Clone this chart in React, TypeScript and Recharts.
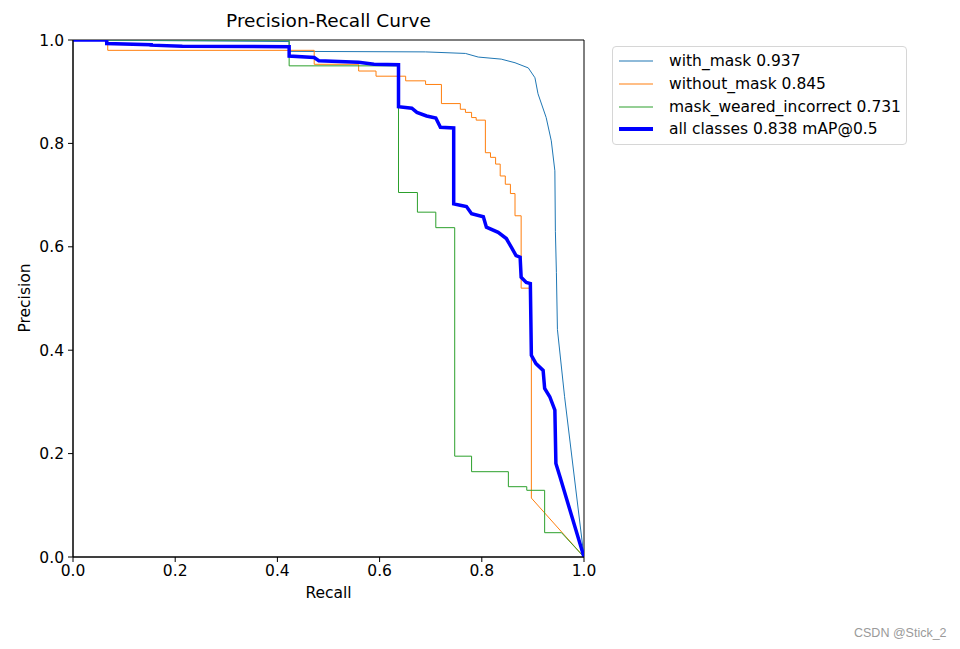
import React from 'react';
import { LineChart, Line, XAxis, YAxis, ReferenceArea } from 'recharts';

// with_mask: traced vertices (recall, precision)
const withMaskRecall = [0, 0.423, 0.423, 0.69, 0.768, 0.793, 0.838, 0.865, 0.891, 0.904, 0.91, 0.926, 0.936, 0.943, 0.944, 0.946, 0.948, 0.962, 1.0];
const withMaskPrecision = [1, 0.997, 0.978, 0.977, 0.974, 0.967, 0.963, 0.956, 0.946, 0.927, 0.896, 0.85, 0.805, 0.747, 0.63, 0.55, 0.44, 0.31, 0];

// without_mask: step breakpoints and the precision level after each one
const withoutMaskRecall = [0, 0.068, 0.472, 0.559, 0.593, 0.651, 0.69, 0.721, 0.758, 0.768, 0.78, 0.789, 0.807, 0.817, 0.827, 0.836, 0.846, 0.856, 0.865, 0.877, 0.897];
const withoutMaskPrecision = [1, 0.98, 0.953, 0.94, 0.93, 0.921, 0.914, 0.877, 0.866, 0.86, 0.85, 0.845, 0.782, 0.773, 0.76, 0.737, 0.721, 0.703, 0.66, 0.52, 0.114];
const withoutMaskEnd = 0.897;

// mask_weared_incorrect: step breakpoints
const incorrectRecall = [0, 0.423, 0.637, 0.674, 0.71, 0.747, 0.78, 0.852, 0.888, 0.923];
const incorrectPrecision = [1, 0.95, 0.705, 0.667, 0.637, 0.195, 0.165, 0.136, 0.129, 0.047];
const incorrectEnd = 0.956;

// all classes: traced vertices
const allRecall = [0, 0.066, 0.066, 0.153, 0.153, 0.214, 0.423, 0.423, 0.472, 0.481, 0.559, 0.589, 0.637, 0.637, 0.663, 0.673, 0.692, 0.71, 0.719, 0.745, 0.745, 0.76, 0.77, 0.78, 0.803, 0.809, 0.832, 0.848, 0.858, 0.867, 0.875, 0.877, 0.887, 0.895, 0.897, 0.906, 0.92, 0.923, 0.933, 0.943, 0.945, 0.953, 1];
const allPrecision = [1, 1, 0.993, 0.991, 0.99, 0.988, 0.987, 0.969, 0.966, 0.96, 0.957, 0.953, 0.952, 0.871, 0.868, 0.86, 0.853, 0.849, 0.831, 0.83, 0.683, 0.68, 0.678, 0.664, 0.658, 0.638, 0.628, 0.616, 0.599, 0.583, 0.58, 0.541, 0.531, 0.529, 0.39, 0.374, 0.361, 0.326, 0.31, 0.284, 0.181, 0.155, 0];

const axisTicks = [0, 0.2, 0.4, 0.6, 0.8, 1.0];

const legendItems = [
  { label: 'with_mask 0.937', color: '#1f77b4', width: 1.2 },
  { label: 'without_mask 0.845', color: '#ff7f0e', width: 1.2 },
  { label: 'mask_weared_incorrect 0.731', color: '#2ca02c', width: 1.2 },
  { label: 'all classes 0.838 mAP@0.5', color: '#0000ff', width: 4 },
];

type Pt = { recall: number; precision: number };

const zipPoints = (r: number[], p: number[]): Pt[] =>
  r.map((x, i) => ({ recall: x, precision: p[i] }));

// turn step breakpoints into line vertices, ending with a straight run to (1, 0)
const stairs = (r: number[], p: number[], end: number): Pt[] => {
  const pts: Pt[] = [];
  r.forEach((x, i) => {
    if (i > 0) pts.push({ recall: x, precision: p[i - 1] });
    pts.push({ recall: x, precision: p[i] });
  });
  pts.push({ recall: end, precision: p[p.length - 1] });
  pts.push({ recall: 1, precision: 0 });
  return pts;
};

const withMaskData = zipPoints(withMaskRecall, withMaskPrecision);
const withoutMaskData = stairs(withoutMaskRecall, withoutMaskPrecision, withoutMaskEnd);
const incorrectData = stairs(incorrectRecall, incorrectPrecision, incorrectEnd);
const allData = zipPoints(allRecall, allPrecision);

const FONT = '"DejaVu Sans", sans-serif';

const LegendBox = () => (
  <div
    style={{
      position: 'absolute',
      left: 612,
      top: 46,
      width: 293,
      height: 97,
      border: '1px solid #d6d6d6',
      borderRadius: 4,
      background: '#fff',
      fontFamily: FONT,
      fontSize: 15.5,
      color: '#000',
    }}
  >
    {legendItems.map((item, i) => (
      <div key={item.label} style={{ position: 'absolute', left: 5, top: 3 + i * 22.8, height: 22, display: 'flex', alignItems: 'center' }}>
        <svg width={36} height={10} style={{ marginRight: 15 }}>
          <line x1={1} y1={5} x2={35} y2={5} stroke={item.color} strokeWidth={item.width} />
        </svg>
        <span style={{ whiteSpace: 'nowrap' }}>{item.label}</span>
      </div>
    ))}
  </div>
);

const App: React.FC = () => {
  const tickStyle = { fontFamily: FONT, fontSize: 15.5, fill: '#000' };
  return (
    <div style={{ position: 'absolute', left: 0, top: 0, width: 960, height: 649, background: '#fff' }}>
      <LineChart width={960} height={649} margin={{ top: 40, right: 376, bottom: 62, left: 33 }}>
        <XAxis
          dataKey="recall"
          type="number"
          domain={[0, 1]}
          ticks={axisTicks}
          tickFormatter={(v: number) => v.toFixed(1)}
          height={30}
          tickSize={5}
          tickMargin={3}
          tick={tickStyle}
          stroke="#000"
          allowDataOverflow
        />
        <YAxis
          type="number"
          domain={[0, 1]}
          ticks={axisTicks}
          tickFormatter={(v: number) => v.toFixed(1)}
          width={40}
          tickSize={5}
          tickMargin={4}
          tick={tickStyle}
          stroke="#000"
          allowDataOverflow
        />
        <Line data={withMaskData} dataKey="precision" type="linear" stroke="#1f77b4" strokeWidth={1} dot={false} isAnimationActive={false} />
        <Line data={withoutMaskData} dataKey="precision" type="linear" stroke="#ff7f0e" strokeWidth={1} dot={false} isAnimationActive={false} />
        <Line data={incorrectData} dataKey="precision" type="linear" stroke="#2ca02c" strokeWidth={1} dot={false} isAnimationActive={false} />
        <Line data={allData} dataKey="precision" type="linear" stroke="#0000ff" strokeWidth={3.5} dot={false} isAnimationActive={false} />
        {/* axes frame (matplotlib spines) */}
        <ReferenceArea x1={0} x2={1} y1={0} y2={1} fill="none" stroke="#000" strokeWidth={1} ifOverflow="visible" />
      </LineChart>

      <LegendBox />

      <div style={{ position: 'absolute', left: 73, width: 511, top: 10, textAlign: 'center', fontFamily: FONT, fontSize: 18.5, color: '#000' }}>
        Precision-Recall Curve
      </div>
      <div style={{ position: 'absolute', left: 73, width: 511, top: 584, textAlign: 'center', fontFamily: FONT, fontSize: 15.5, color: '#000' }}>
        Recall
      </div>
      <div
        style={{
          position: 'absolute',
          left: 25,
          top: 298,
          transform: 'translate(-50%, -50%) rotate(-90deg)',
          fontFamily: FONT,
          fontSize: 15.5,
          color: '#000',
          whiteSpace: 'nowrap',
        }}
      >
        Precision
      </div>
      <div style={{ position: 'absolute', left: 854, top: 626, fontFamily: '"Liberation Sans", Arial, sans-serif', fontSize: 12.5, color: '#9a9a9a' }}>
        CSDN @Stick_2
      </div>
    </div>
  );
};

export default App;
